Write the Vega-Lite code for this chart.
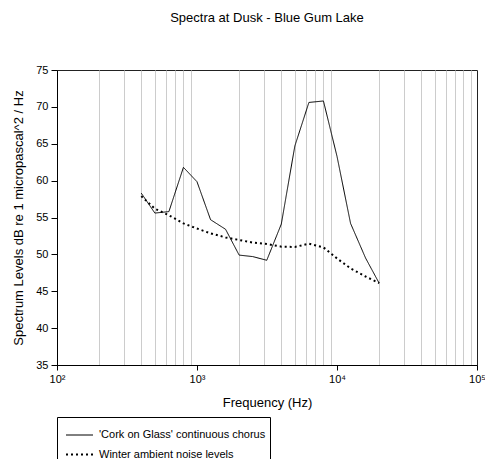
{
  "$schema": "https://vega.github.io/schema/vega-lite/v6.json",
  "autosize": {"type": "none"},
  "padding": {"left": 57, "top": 70, "right": 8, "bottom": 94},
  "width": 420,
  "height": 295,
  "title": {"text": "Spectra at Dusk - Blue Gum Lake", "font": "Liberation Sans", "fontSize": 13, "fontWeight": "normal", "anchor": "middle", "offset": 39, "color": "black"},
  "config": {
    "view": {"stroke": "#222", "strokeWidth": 1},
    "font": "Liberation Sans"
  },
  "data": {"values": [
    {"f": 400, "db": 58.3, "series": "'Cork on Glass' continuous chorus"},
    {"f": 500, "db": 55.6, "series": "'Cork on Glass' continuous chorus"},
    {"f": 630, "db": 55.8, "series": "'Cork on Glass' continuous chorus"},
    {"f": 800, "db": 61.8, "series": "'Cork on Glass' continuous chorus"},
    {"f": 1000, "db": 59.85, "series": "'Cork on Glass' continuous chorus"},
    {"f": 1250, "db": 54.7, "series": "'Cork on Glass' continuous chorus"},
    {"f": 1600, "db": 53.4, "series": "'Cork on Glass' continuous chorus"},
    {"f": 2000, "db": 49.9, "series": "'Cork on Glass' continuous chorus"},
    {"f": 2500, "db": 49.7, "series": "'Cork on Glass' continuous chorus"},
    {"f": 3150, "db": 49.2, "series": "'Cork on Glass' continuous chorus"},
    {"f": 4000, "db": 54.1, "series": "'Cork on Glass' continuous chorus"},
    {"f": 5000, "db": 64.7, "series": "'Cork on Glass' continuous chorus"},
    {"f": 6300, "db": 70.6, "series": "'Cork on Glass' continuous chorus"},
    {"f": 8000, "db": 70.8, "series": "'Cork on Glass' continuous chorus"},
    {"f": 10000, "db": 63.3, "series": "'Cork on Glass' continuous chorus"},
    {"f": 12500, "db": 54.2, "series": "'Cork on Glass' continuous chorus"},
    {"f": 16000, "db": 49.5, "series": "'Cork on Glass' continuous chorus"},
    {"f": 20000, "db": 46.1, "series": "'Cork on Glass' continuous chorus"},
    {"f": 400, "db": 57.9, "series": "Winter ambient noise levels"},
    {"f": 500, "db": 56.2, "series": "Winter ambient noise levels"},
    {"f": 630, "db": 55.3, "series": "Winter ambient noise levels"},
    {"f": 800, "db": 54.2, "series": "Winter ambient noise levels"},
    {"f": 1000, "db": 53.5, "series": "Winter ambient noise levels"},
    {"f": 1250, "db": 52.85, "series": "Winter ambient noise levels"},
    {"f": 1600, "db": 52.3, "series": "Winter ambient noise levels"},
    {"f": 2000, "db": 51.95, "series": "Winter ambient noise levels"},
    {"f": 2500, "db": 51.6, "series": "Winter ambient noise levels"},
    {"f": 3150, "db": 51.4, "series": "Winter ambient noise levels"},
    {"f": 4000, "db": 51.05, "series": "Winter ambient noise levels"},
    {"f": 5000, "db": 51.0, "series": "Winter ambient noise levels"},
    {"f": 6300, "db": 51.45, "series": "Winter ambient noise levels"},
    {"f": 8000, "db": 50.95, "series": "Winter ambient noise levels"},
    {"f": 10000, "db": 49.45, "series": "Winter ambient noise levels"},
    {"f": 12500, "db": 48.1, "series": "Winter ambient noise levels"},
    {"f": 16000, "db": 47.0, "series": "Winter ambient noise levels"},
    {"f": 20000, "db": 46.1, "series": "Winter ambient noise levels"}
  ]},
  "mark": {"type": "line", "color": "black", "clip": true},
  "encoding": {
    "x": {
      "field": "f", "type": "quantitative",
      "scale": {"type": "log", "domain": [100, 100000], "nice": false},
      "axis": {
        "title": "Frequency (Hz)",
        "titleFont": "Liberation Sans", "titleFontSize": 13, "titleFontWeight": "normal", "titleColor": "black", "titlePadding": 12,
        "values": [100, 200, 300, 400, 500, 600, 700, 800, 900, 1000, 2000, 3000, 4000, 5000, 6000, 7000, 8000, 9000, 10000, 20000, 30000, 40000, 50000, 60000, 70000, 80000, 90000, 100000],
        "labelExpr": "abs(log(datum.value)/LN10 - round(log(datum.value)/LN10)) < 0.000001 ? '10' + ['⁰','¹','²','³','⁴','⁵'][round(log(datum.value)/LN10)] : ''",
        "labelFont": "Liberation Sans", "labelFontSize": 11, "labelColor": "black", "labelFlush": false, "labelOverlap": false, "labelPadding": 3,
        "grid": true, "gridColor": "#cccccc", "gridWidth": 1,
        "gridOpacity": {"condition": {"test": "abs(log(datum.value)/LN10 - round(log(datum.value)/LN10)) < 0.000001", "value": 0}, "value": 1},
        "tickOpacity": {"condition": {"test": "abs(log(datum.value)/LN10 - round(log(datum.value)/LN10)) < 0.000001", "value": 1}, "value": 0},
        "tickColor": "black", "tickSize": 5, "domainColor": "black"
      }
    },
    "y": {
      "field": "db", "type": "quantitative",
      "scale": {"domain": [35, 75], "nice": false},
      "axis": {
        "title": "Spectrum Levels dB re 1 micropascal^2 / Hz",
        "titleFont": "Liberation Sans", "titleFontSize": 13, "titleFontWeight": "normal", "titleColor": "black", "titlePadding": 10,
        "values": [35, 40, 45, 50, 55, 60, 65, 70, 75],
        "labelFont": "Liberation Sans", "labelFontSize": 11, "labelColor": "black", "labelFlush": false, "labelPadding": 3,
        "grid": false, "tickColor": "black", "tickSize": 6, "domainColor": "black"
      }
    },
    "strokeDash": {
      "field": "series", "type": "nominal",
      "scale": {"domain": ["'Cork on Glass' continuous chorus", "Winter ambient noise levels"], "range": [[1, 0], [2, 3]]},
      "legend": {
        "title": null, "orient": "none", "legendX": 0, "legendY": 347,
        "strokeColor": "black", "padding": 4, "fillColor": "white",
        "labelFont": "Liberation Sans", "labelFontSize": 11, "labelColor": "black", "labelLimit": 400,
        "symbolType": "stroke", "symbolSize": 729, "symbolStrokeColor": "black", "symbolOffset": 4, "labelOffset": 5, "rowPadding": -4
      }
    },
    "strokeWidth": {
      "field": "series", "type": "nominal",
      "scale": {"domain": ["'Cork on Glass' continuous chorus", "Winter ambient noise levels"], "range": [1, 2]},
      "legend": null
    }
  }
}
